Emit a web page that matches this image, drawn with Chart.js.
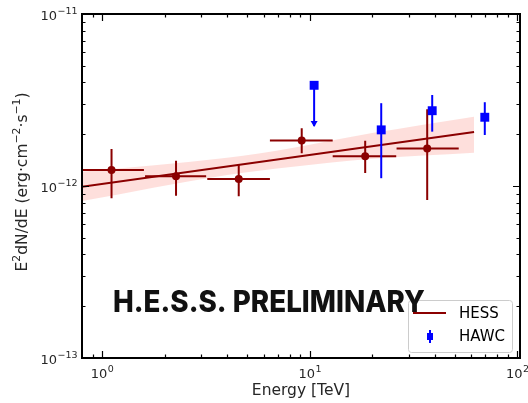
<!DOCTYPE html>
<html>
<head>
<meta charset="utf-8">
<script src="https://cdn.jsdelivr.net/npm/chart.js@4.4.1/dist/chart.umd.min.js"></script>
<style>
html, body { margin: 0; padding: 0; background: #fff; }
#wrap { width: 528px; height: 403px; }
</style>
</head>
<body>
<div id="wrap"><canvas id="sed" width="528" height="403"></canvas></div>
<script>
// HESS flux points (TeV / erg cm-2 s-1)
var hessE      = [1.11, 2.27, 4.55, 9.15, 18.5, 36.8];
var hessELo    = [0.80, 1.61, 3.21, 6.43, 12.9, 26.2];
var hessEHi    = [1.59, 3.17, 6.43, 12.9, 26.1, 52.2];
var hessFlux   = [1.24e-12, 1.14e-12, 1.10e-12, 1.84e-12, 1.49e-12, 1.65e-12];
var hessFluxLo = [8.5e-13, 8.78e-13, 8.71e-13, 1.55e-12, 1.19e-12, 8.29e-13];
var hessFluxHi = [1.64e-12, 1.40e-12, 1.34e-12, 2.17e-12, 1.83e-12, 2.79e-12];

// HESS fit + error band
var fitE    = [0.8, 61.9];
var fitFlux = [9.9e-13, 2.06e-12];
var bandE   = [0.8, 4, 8.1, 20, 61.9];
var bandHi  = [1.21e-12, 1.46e-12, 1.66e-12, 2.03e-12, 2.53e-12];
var bandLo  = [8.18e-13, 1.16e-12, 1.29e-12, 1.44e-12, 1.56e-12];

// HAWC points, first one is an upper limit
var hawcE      = [10.5, 22.1, 38.9, 69.7];
var hawcFlux   = [3.85e-12, 2.12e-12, 2.74e-12, 2.51e-12];
var hawcFluxLo = [2.23e-12, 1.11e-12, 2.07e-12, 1.98e-12];
var hawcFluxHi = [3.85e-12, 3.03e-12, 3.38e-12, 3.07e-12];
var hawcUL     = [true, false, false, false];

// ticks
var xTicks = [1, 10, 100];
var xTickLabels = ['10^0', '10^1', '10^2'];
var yTicks = [1e-13, 1e-12, 1e-11];
var yTickLabels = ['10^\u221213', '10^\u221212', '10^\u221211'];

var red = '#8b0000';
var blue = '#0000ff';
var dejavu = '"DejaVu Sans", sans-serif';

function pts(xv, yv) {
  return xv.map(function(x, i) { return { x: x, y: yv[i] }; });
}

// label like 10^-12 with a raised exponent
function powLabel(ctx, txt, x, y, align) {
  var parts = txt.split('^');
  ctx.font = '13px ' + dejavu;
  var w1 = ctx.measureText(parts[0]).width;
  ctx.font = '9.5px ' + dejavu;
  var w2 = ctx.measureText(parts[1]).width;
  var x0 = align === 'right' ? x - w1 - w2 : x - (w1 + w2) / 2;
  ctx.textAlign = 'left';
  ctx.textBaseline = 'alphabetic';
  ctx.fillStyle = '#262626';
  ctx.font = '13px ' + dejavu;
  ctx.fillText(parts[0], x0, y);
  ctx.font = '9.5px ' + dejavu;
  ctx.fillText(parts[1], x0 + w1 + 0.5, y - 6);
}

// text made of [string, isSuperscript] pieces, centred on 0
function richText(ctx, pieces, size) {
  var sup = size * 0.7;
  var total = 0;
  pieces.forEach(function(p) {
    ctx.font = (p[1] ? sup : size) + 'px ' + dejavu;
    total += ctx.measureText(p[0]).width;
  });
  var x = -total / 2;
  ctx.textAlign = 'left';
  ctx.textBaseline = 'alphabetic';
  pieces.forEach(function(p) {
    ctx.font = (p[1] ? sup : size) + 'px ' + dejavu;
    ctx.fillText(p[0], x, p[1] ? size * 0.35 - size * 0.45 : size * 0.35);
    x += ctx.measureText(p[0]).width;
  });
}

var errBars = {
  id: 'errBars',
  beforeDatasetDraw: function(chart, args) {
    var ctx = chart.ctx, a = chart.chartArea;
    var xs = chart.scales.x, ys = chart.scales.y;
    ctx.save();
    ctx.beginPath();
    ctx.rect(a.left, a.top, a.right - a.left, a.bottom - a.top);
    ctx.clip();
    ctx.lineWidth = 2;
    if (args.index === 1) {
      ctx.strokeStyle = red;
      hessE.forEach(function(e, i) {
        var px = xs.getPixelForValue(e), py = ys.getPixelForValue(hessFlux[i]);
        ctx.beginPath();
        ctx.moveTo(xs.getPixelForValue(hessELo[i]), py);
        ctx.lineTo(xs.getPixelForValue(hessEHi[i]), py);
        ctx.moveTo(px, ys.getPixelForValue(hessFluxLo[i]));
        ctx.lineTo(px, ys.getPixelForValue(hessFluxHi[i]));
        ctx.stroke();
      });
    }
    if (args.index === 0) {
      ctx.strokeStyle = blue;
      ctx.fillStyle = blue;
      hawcE.forEach(function(e, i) {
        var px = xs.getPixelForValue(e);
        var lo = ys.getPixelForValue(hawcFluxLo[i]);
        ctx.beginPath();
        ctx.moveTo(px, ys.getPixelForValue(hawcFluxHi[i]));
        ctx.lineTo(px, lo);
        ctx.stroke();
        if (hawcUL[i]) {
          ctx.beginPath();
          ctx.moveTo(px - 3.5, lo - 5);
          ctx.lineTo(px + 3.5, lo - 5);
          ctx.lineTo(px, lo + 1);
          ctx.closePath();
          ctx.fill();
        }
      });
    }
    ctx.restore();
  },
  afterDraw: function(chart) {
    var ctx = chart.ctx, a = chart.chartArea;
    var xs = chart.scales.x, ys = chart.scales.y;
    ctx.save();

    // ticks pointing inward, on all four sides
    ctx.strokeStyle = '#000';
    ctx.lineWidth = 1.2;
    function tickX(v, len) {
      var px = Math.round(xs.getPixelForValue(v)) + 0.5;
      ctx.beginPath();
      ctx.moveTo(px, a.bottom); ctx.lineTo(px, a.bottom - len);
      ctx.moveTo(px, a.top); ctx.lineTo(px, a.top + len);
      ctx.stroke();
    }
    function tickY(v, len) {
      var py = Math.round(ys.getPixelForValue(v)) + 0.5;
      ctx.beginPath();
      ctx.moveTo(a.left, py); ctx.lineTo(a.left + len, py);
      ctx.moveTo(a.right, py); ctx.lineTo(a.right - len, py);
      ctx.stroke();
    }
    [0.1, 1, 10].forEach(function(d) {
      for (var k = 2; k <= 9; k++) {
        var v = k * d;
        if (v > xs.min && v < xs.max) tickX(v, 3.5);
      }
    });
    xTicks.forEach(function(v) { if (v > xs.min && v < xs.max) tickX(v, 7); });
    [1e-13, 1e-12].forEach(function(d) {
      for (var k = 2; k <= 9; k++) tickY(k * d, 3.5);
    });
    yTicks.forEach(function(v) { if (v > ys.min && v < ys.max) tickY(v, 7); });

    // frame
    ctx.lineWidth = 2;
    ctx.strokeRect(a.left, a.top, a.right - a.left, a.bottom - a.top);

    // tick labels
    xTicks.forEach(function(v, i) {
      powLabel(ctx, xTickLabels[i], xs.getPixelForValue(v), 378, 'center');
    });
    yTicks.forEach(function(v, i) {
      powLabel(ctx, yTickLabels[i], a.left - 5, ys.getPixelForValue(v) + 6, 'right');
    });

    // axis titles
    ctx.fillStyle = '#262626';
    ctx.font = '15.5px ' + dejavu;
    ctx.textAlign = 'center';
    ctx.textBaseline = 'middle';
    ctx.fillText('Energy [TeV]', (a.left + a.right) / 2, 391);
    ctx.save();
    ctx.translate(22, (a.top + a.bottom) / 2 - 4);
    ctx.rotate(-Math.PI / 2);
    richText(ctx, [['E', 0], ['2', 1], ['dN/dE (erg\u00b7cm', 0], ['\u22122', 1],
                   ['\u00b7s', 0], ['\u22121', 1], [')', 0]], 15.5);
    ctx.restore();

    // legend
    var lx = 408.5, ly = 300.5, lw = 104, lh = 52;
    ctx.beginPath();
    ctx.roundRect(lx, ly, lw, lh, 3);
    ctx.fillStyle = 'rgba(255,255,255,0.8)';
    ctx.fill();
    ctx.strokeStyle = '#cccccc';
    ctx.lineWidth = 1;
    ctx.stroke();
    ctx.strokeStyle = red;
    ctx.lineWidth = 2;
    ctx.beginPath();
    ctx.moveTo(413, 313); ctx.lineTo(446, 313);
    ctx.stroke();
    ctx.strokeStyle = blue;
    ctx.fillStyle = blue;
    ctx.beginPath();
    ctx.moveTo(430, 330); ctx.lineTo(430, 343);
    ctx.stroke();
    ctx.fillRect(427, 333, 6, 7);
    ctx.fillStyle = '#000';
    ctx.font = '15px ' + dejavu;
    ctx.textAlign = 'left';
    ctx.textBaseline = 'middle';
    ctx.fillText(chart.data.datasets[2].label, 459, 314);
    ctx.fillText(chart.data.datasets[0].label, 459, 337);

    // watermark
    var wm = 'H.E.S.S. PRELIMINARY';
    ctx.font = '800 30px Inter, "Open Sans", sans-serif';
    var tw = ctx.measureText(wm).width;
    ctx.save();
    ctx.translate(113, 312);
    ctx.scale(312 / tw, 1);
    ctx.fillStyle = '#111';
    ctx.textAlign = 'left';
    ctx.textBaseline = 'alphabetic';
    ctx.fillText(wm, 0, 0);
    ctx.restore();

    ctx.restore();
  }
};

new Chart(document.getElementById('sed'), {
  type: 'scatter',
  data: {
    datasets: [
      {
        label: 'HAWC',
        data: pts(hawcE, hawcFlux),
        pointStyle: 'rect',
        pointRadius: 6.3,
        backgroundColor: blue,
        borderColor: blue,
        borderWidth: 0,
        order: 0
      },
      {
        label: 'HESS points',
        data: pts(hessE, hessFlux),
        pointStyle: 'circle',
        pointRadius: 4,
        backgroundColor: red,
        borderColor: red,
        borderWidth: 0,
        order: 1
      },
      {
        type: 'line',
        label: 'HESS',
        data: pts(fitE, fitFlux),
        borderColor: red,
        borderWidth: 2,
        pointRadius: 0,
        fill: false,
        order: 2
      },
      {
        type: 'line',
        label: 'band hi',
        data: pts(bandE, bandHi),
        borderWidth: 0,
        borderColor: 'rgba(0,0,0,0)',
        pointRadius: 0,
        cubicInterpolationMode: 'monotone',
        fill: false,
        order: 3
      },
      {
        type: 'line',
        label: 'band lo',
        data: pts(bandE, bandLo),
        borderWidth: 0,
        borderColor: 'rgba(0,0,0,0)',
        backgroundColor: 'rgba(250,128,114,0.25)',
        pointRadius: 0,
        cubicInterpolationMode: 'monotone',
        fill: '-1',
        order: 4
      }
    ]
  },
  options: {
    responsive: false,
    animation: false,
    layout: { padding: { left: 82, right: 8, top: 14, bottom: 45 } },
    scales: {
      x: { type: 'logarithmic', min: 0.8, max: 103, display: false },
      y: { type: 'logarithmic', min: 1e-13, max: 1e-11, display: false }
    },
    plugins: {
      legend: { display: false },
      tooltip: { enabled: false }
    }
  },
  plugins: [errBars]
});
</script>
</body>
</html>
